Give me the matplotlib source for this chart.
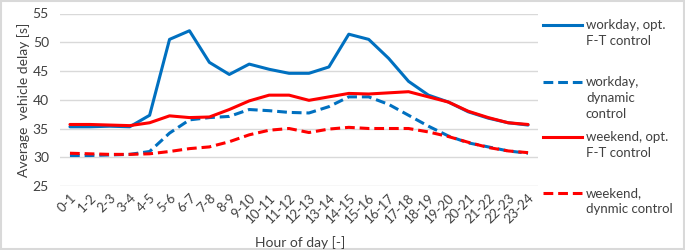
import matplotlib
matplotlib.use("Agg")
import matplotlib.pyplot as plt
from matplotlib.lines import Line2D
from matplotlib.patches import Rectangle

plt.rcParams['font.family'] = ['Lato', 'DejaVu Sans']

hours = ["0-1", "1-2", "2-3", "3-4", "4-5", "5-6", "6-7", "7-8", "8-9", "9-10",
         "10-11", "11-12", "12-13", "13-14", "14-15", "15-16", "16-17", "17-18",
         "18-19", "19-20", "20-21", "21-22", "22-23", "23-24"]

workday_opt = [35.3, 35.3, 35.4, 35.3, 37.3, 50.5, 52.0, 46.5, 44.4, 46.2, 45.3, 44.6,
               44.6, 45.7, 51.4, 50.5, 47.2, 43.2, 40.8, 39.6, 37.9, 36.8, 36.0, 35.6]
workday_dyn = [30.3, 30.3, 30.4, 30.5, 31.0, 34.2, 36.5, 36.9, 37.1, 38.3, 38.1, 37.8,
               37.7, 38.8, 40.5, 40.5, 39.2, 37.3, 35.4, 33.7, 32.5, 31.8, 31.1, 30.7]
weekend_opt = [35.7, 35.7, 35.6, 35.5, 36.0, 37.2, 36.9, 37.0, 38.3, 39.8, 40.8, 40.8,
               39.9, 40.5, 41.1, 41.0, 41.2, 41.4, 40.5, 39.6, 38.0, 36.9, 36.0, 35.7]
weekend_dyn = [30.7, 30.6, 30.5, 30.5, 30.6, 31.0, 31.5, 31.8, 32.7, 33.9, 34.7, 35.0,
               34.3, 34.9, 35.2, 35.0, 35.0, 35.0, 34.4, 33.6, 32.6, 31.7, 31.1, 30.8]

series_labels = [["workday, opt.", "F-T control"],
                 ["workday,", "dynamic", "control"],
                 ["weekend, opt.", "F-T control"],
                 ["weekend,", "dynmic control"]]

BLUE = "#0070C0"
RED = "#FF0000"
W, H = 685, 250
fig = plt.figure(figsize=(6.85, 2.5), dpi=100)
fig.patches.append(Rectangle((0.002, 0.004), 0.996, 0.992, transform=fig.transFigure,
                             fill=False, edgecolor="#D9D9D9", linewidth=1.5))

ax = fig.add_axes([60 / W, 1 - 186 / H, (538 - 60) / W, (186 - 13.5) / H])
x = list(range(len(hours)))
styles = [(workday_opt, BLUE, '-'), (workday_dyn, BLUE, (0, (3.2, 1.6))),
          (weekend_opt, RED, '-'), (weekend_dyn, RED, (0, (3.2, 1.6)))]
for vals, c, ls in styles:
    ax.plot(x, vals, color=c, linestyle=ls, linewidth=2.2, solid_capstyle='round')

ax.set_xlim(-0.5, len(hours) - 0.5)
ax.set_ylim(25, 55)
ax.set_yticks([25, 30, 35, 40, 45, 50, 55])
ax.set_xticks(x)
ax.set_xticklabels(hours, rotation=45, ha='right', rotation_mode='anchor', fontsize=9.5, color="#404040")
ax.tick_params(axis='y', labelsize=10, colors="#404040", length=0, pad=8)
ax.tick_params(axis='x', length=0, pad=4)
ax.grid(axis='y', color="#D9D9D9", linewidth=1)
ax.set_axisbelow(True)
for s in ax.spines.values():
    s.set_visible(False)
ax.set_ylabel("Average  vehicle delay [s]", fontsize=10, color="#404040", labelpad=2)
fig.text(300 / W, 1 - 243 / H, "Hour of day [-]", fontsize=10, color="#404040",
         ha='center', va='center')

# legend
entry_y = [25, 82, 137, 193]
for (vals, c, ls), lines, y0 in zip(styles, series_labels, entry_y):
    fig.add_artist(Line2D([543 / W, 582 / W], [1 - y0 / H, 1 - y0 / H], color=c,
                          linestyle=ls, linewidth=2.2, transform=fig.transFigure))
    for i, t in enumerate(lines):
        fig.text(586 / W, 1 - (y0 + i * 16) / H, t, fontsize=9.5, color="#404040",
                 ha='left', va='center')

fig.savefig("out.png", dpi=100)
